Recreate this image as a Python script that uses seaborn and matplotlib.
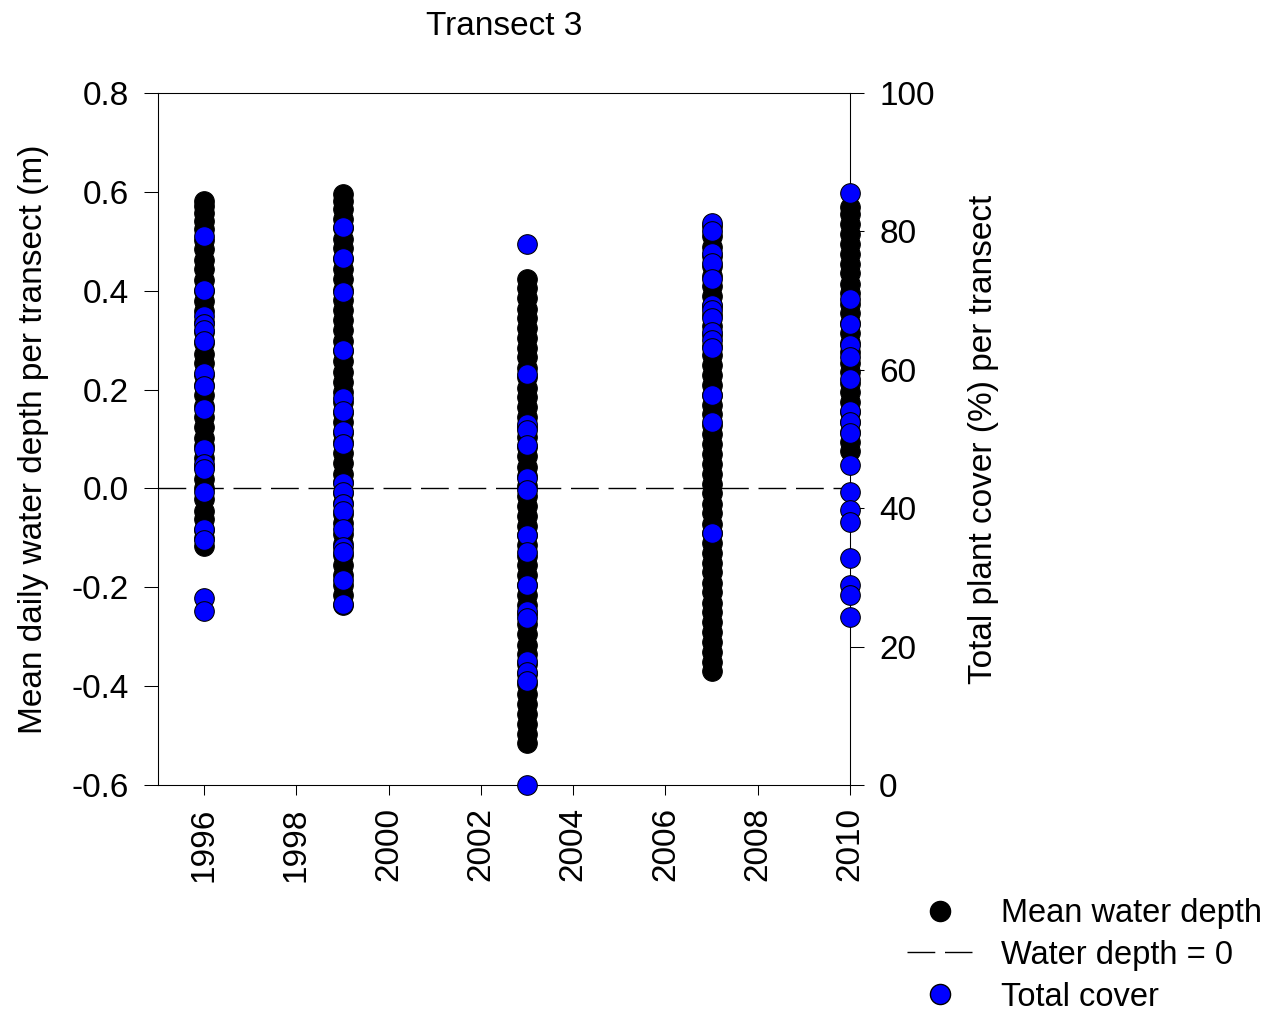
import numpy as np
import pandas as pd
import matplotlib
matplotlib.use("Agg")
import matplotlib.pyplot as plt
import seaborn as sns
from matplotlib.lines import Line2D

# ---------------- data ----------------
years = [1996, 1999, 2003, 2007, 2010]

# Mean daily water depth (m) -- dense daily columns
depth_1996 = [-0.117, -0.100, -0.085, -0.062, -0.045, -0.022, 0.000, 0.020, 0.043, 0.062,
              0.085, 0.102, 0.125, 0.145, 0.166, 0.190, 0.210, 0.230, 0.254, 0.272,
              0.295, 0.316, 0.336, 0.358, 0.380, 0.400, 0.421, 0.444, 0.462, 0.485,
              0.502, 0.524, 0.541, 0.558, 0.572, 0.582]
depth_1999 = [-0.235, -0.215, -0.196, -0.175, -0.154, -0.135, -0.112, -0.093, -0.070, -0.052,
              -0.030, -0.010, 0.012, 0.030, 0.052, 0.071, 0.094, 0.112, 0.135, 0.153,
              0.175, 0.195, 0.216, 0.236, 0.258, 0.278, 0.298, 0.320, 0.340, 0.361,
              0.382, 0.402, 0.423, 0.444, 0.465, 0.486, 0.505, 0.526, 0.546, 0.565,
              0.582, 0.595]
depth_2003 = [-0.515, -0.496, -0.477, -0.456, -0.436, -0.415, -0.396, -0.375, -0.356, -0.335,
              -0.316, -0.295, -0.275, -0.255, -0.236, -0.215, -0.196, -0.175, -0.155, -0.136,
              -0.115, -0.095, -0.076, -0.055, -0.035, -0.015, 0.004, 0.025, 0.044, 0.065,
              0.084, 0.105, 0.124, 0.145, 0.164, 0.185, 0.204, 0.225, 0.244, 0.265,
              0.284, 0.305, 0.324, 0.345, 0.364, 0.385, 0.405, 0.424]
depth_2007 = [-0.370, -0.351, -0.330, -0.311, -0.290, -0.271, -0.250, -0.231, -0.210, -0.191,
              -0.170, -0.151, -0.130, -0.111, -0.090, -0.071, -0.050, -0.031, -0.010, 0.009,
              0.030, 0.049, 0.070, 0.089, 0.110, 0.129, 0.150, 0.169, 0.190, 0.209,
              0.230, 0.249, 0.270, 0.289, 0.310, 0.329, 0.350, 0.369, 0.390, 0.409,
              0.430, 0.449, 0.470, 0.489, 0.510, 0.530]
depth_2010 = [0.075, 0.094, 0.115, 0.134, 0.155, 0.174, 0.195, 0.214, 0.235, 0.254,
              0.275, 0.294, 0.315, 0.334, 0.355, 0.374, 0.395, 0.414, 0.435, 0.454,
              0.475, 0.494, 0.515, 0.534, 0.555, 0.570]

# Total plant cover (%) per transect
cover_1996 = [79.4, 71.6, 67.8, 66.6, 65.7, 64.1, 59.6, 57.7, 54.4, 48.6,
              46.4, 45.6, 42.4, 37.0, 35.4, 27.0, 25.1]
cover_1999 = [80.6, 76.2, 71.2, 62.8, 55.9, 54.1, 51.2, 49.3, 43.6, 42.4,
              40.6, 39.6, 37.0, 34.4, 33.6, 29.6, 26.2]
cover_2003 = [78.2, 59.4, 52.1, 51.3, 49.1, 44.4, 42.7, 36.1, 33.6, 28.9,
              25.1, 24.1, 17.9, 16.3, 15.0, 0.0]
cover_2007 = [81.2, 80.0, 76.9, 75.4, 73.1, 69.4, 68.6, 67.5, 65.4, 64.3,
              63.2, 56.4, 52.5, 36.4]
cover_2010 = [85.6, 70.3, 66.6, 63.6, 61.8, 58.7, 54.0, 52.5, 50.8, 46.2,
              42.4, 39.8, 38.0, 32.8, 28.9, 27.5, 24.3]

x_ticks = [1996, 1998, 2000, 2002, 2004, 2006, 2008, 2010]
left_ticks = [-0.6, -0.4, -0.2, 0.0, 0.2, 0.4, 0.6, 0.8]
left_labels = ["-0.6", "-0.4", "-0.2", "0.0", "0.2", "0.4", "0.6", "0.8"]
right_ticks = [0, 20, 40, 60, 80, 100]

title = "Transect 3"
left_label = "Mean daily water depth per transect (m)"
right_label = "Total plant cover (%) per transect"
legend_labels = ["Mean water depth", "Water depth = 0", "Total cover"]

# ---------------- tables ----------------
depth_lists = [depth_1996, depth_1999, depth_2003, depth_2007, depth_2010]
cover_lists = [cover_1996, cover_1999, cover_2003, cover_2007, cover_2010]
df_depth = pd.DataFrame({
    "year": np.concatenate([[y] * len(d) for y, d in zip(years, depth_lists)]),
    "depth": np.concatenate(depth_lists),
})
df_cover = pd.DataFrame({
    "year": np.concatenate([[y] * len(c) for y, c in zip(years, cover_lists)]),
    "cover": np.concatenate(cover_lists),
})

# ---------------- style ----------------
sns.set_theme(style="white")
plt.rcParams["font.family"] = ["Liberation Sans", "DejaVu Sans"]
plt.rcParams["axes.unicode_minus"] = False
for key in ["text.color", "axes.labelcolor", "xtick.color", "ytick.color", "axes.edgecolor"]:
    plt.rcParams[key] = "black"
FS = 24

fig = plt.figure(figsize=(12.7, 10.13), dpi=100)
ax = fig.add_axes([158 / 1270, 1 - 785 / 1013, 692 / 1270, 692 / 1013])

ax.axhline(0, color="black", lw=1.0, dashes=(20, 7), zorder=1)
sns.scatterplot(data=df_depth, x="year", y="depth", ax=ax, color="black",
                edgecolor="black", s=200, linewidth=0.75, zorder=3,
                clip_on=False, legend=False)

ax.set_xlim(1995, 2010)
ax.set_ylim(-0.6, 0.8)
ax.set_xticks(x_ticks)
ax.set_xticklabels([str(t) for t in x_ticks], rotation=90)
ax.set_yticks(left_ticks)
ax.set_yticklabels(left_labels)
ax.set_xlabel("")
ax.set_ylabel(left_label, fontsize=FS, labelpad=16)
ax.tick_params(axis="x", direction="out", length=7, width=0.75, pad=9,
               labelsize=FS, bottom=True, top=False, color="black")
ax.tick_params(axis="y", direction="out", length=10, width=0.75, pad=11,
               labelsize=FS, left=True, right=False, color="black")
for sp in ax.spines.values():
    sp.set_visible(True)
    sp.set_color("black")
    sp.set_linewidth(0.75)
ax.set_title(title, fontsize=FS, pad=42)

ax2 = ax.twinx()
sns.scatterplot(data=df_cover, x="year", y="cover", ax=ax2, color="#0000FF",
                edgecolor="black", s=200, linewidth=0.75, zorder=4,
                clip_on=False, legend=False)
ax2.set_ylim(0, 100)
ax2.set_xlim(1995, 2010)
ax2.set_yticks(right_ticks)
ax2.set_yticklabels([str(t) for t in right_ticks])
ax2.set_xlabel("")
ax2.set_ylabel(right_label, fontsize=FS, labelpad=24)
ax2.tick_params(axis="y", direction="out", length=10, width=0.75, pad=11,
                labelsize=FS, right=True, left=False, color="black")
for sp in ax2.spines.values():
    sp.set_color("black")
    sp.set_linewidth(0.75)

handles = [
    Line2D([], [], marker="o", linestyle="none", markersize=14.5,
           markerfacecolor="black", markeredgecolor="black"),
    Line2D([], [], color="black", lw=1.0, dashes=(20, 7)),
    Line2D([], [], marker="o", linestyle="none", markersize=14.5,
           markerfacecolor="#0000FF", markeredgecolor="black", markeredgewidth=1.0),
]
fig.legend(handles, legend_labels, loc="upper left",
           bbox_to_anchor=(907 / 1270, 1 - 898 / 1013), frameon=False,
           fontsize=23.5, handlelength=2.0, handletextpad=0.87, labelspacing=0.33,
           borderpad=0, borderaxespad=0)

fig.savefig("out.png", dpi=100)
